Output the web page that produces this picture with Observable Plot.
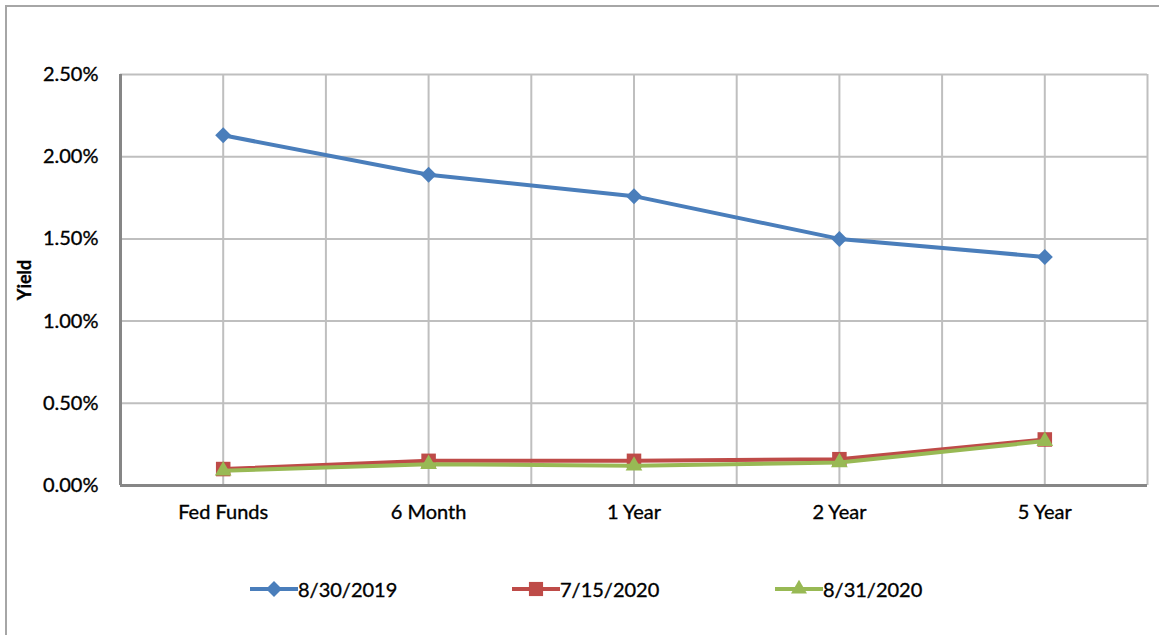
<!DOCTYPE html>
<html><head><meta charset="utf-8">
<script src="https://cdn.jsdelivr.net/npm/d3@7"></script>
<script src="https://cdn.jsdelivr.net/npm/@observablehq/plot@0.6"></script>
<style>
html,body{margin:0;padding:0;background:#fff;overflow:hidden;}
#box{position:absolute;left:5px;top:5px;width:1160px;height:640px;border:2px solid #a6a6a6;box-sizing:border-box;}
#chart{position:absolute;left:0;top:0;}
#chart text{paint-order:stroke;stroke:#000;stroke-width:0.35px;}
#legend{position:absolute;top:567px;left:0;width:1159px;height:30px;font-family:Lato,"Liberation Sans",sans-serif;font-size:20px;color:#000;-webkit-text-stroke:0.35px #000;}
.item{position:absolute;top:0;display:flex;align-items:center;height:30px;}
.item svg{display:block;}
</style></head>
<body>
<div id="box"><div id="chart"></div><div id="legend"></div></div>
<script>
const categories = ["Fed Funds", "6 Month", "1 Year", "2 Year", "5 Year"];
const seriesNames = ["8/30/2019", "7/15/2020", "8/31/2020"];
const seriesColors = ["#4A7EBB", "#BE4B48", "#98B954"];
const seriesSymbols = ["diamond2", "square", "triangle"];
const yield2019_08_30 = [2.13, 1.89, 1.76, 1.50, 1.39];
const yield2020_07_15 = [0.10, 0.15, 0.15, 0.16, 0.28];
const yield2020_08_31 = [0.09, 0.13, 0.12, 0.14, 0.27];
const yTicks = [0, 0.5, 1.0, 1.5, 2.0, 2.5];

const allSeries = [yield2019_08_30, yield2020_07_15, yield2020_08_31];
const rows = allSeries.flatMap((vals, s) => vals.map((v, i) => ({i, cat: categories[i], v, s: seriesNames[s]})));
const gridXs = categories.flatMap((c, i) => [i - 0.5, i]).concat([categories.length - 0.5]);

const marks = [
  Plot.ruleY(yTicks.slice(1), {stroke: "#bfbfbf", strokeWidth: 2}),
  Plot.ruleX(gridXs.slice(1), {stroke: "#bfbfbf", strokeWidth: 2}),
  Plot.ruleX([-0.5], {stroke: "#868686", strokeWidth: 3}),
  Plot.ruleY([0], {stroke: "#868686", strokeWidth: 3, x1: -0.5, x2: 4.5})
];
seriesNames.forEach((name, s) => {
  const d = rows.filter(r => r.s === name);
  marks.push(Plot.line(d, {x: "i", y: "v", stroke: seriesColors[s], strokeWidth: 4}));
  marks.push(Plot.dot(d, {x: "i", y: "v", fill: seriesColors[s], stroke: "none", symbol: seriesSymbols[s], r: s === 0 ? 7.2 : (s === 1 ? 8.2 : 6.2)}));
});

const plot = Plot.plot({
  width: 1152, height: 530,
  marginLeft: 113, marginRight: 12, marginTop: 67, marginBottom: 52,
  style: {fontFamily: "Lato, 'Liberation Sans', sans-serif", fontSize: "20px", color: "#000", background: "transparent", overflow: "visible"},
  x: {type: "linear", domain: [-0.5, categories.length - 0.5], ticks: categories.map((c, i) => i), tickFormat: i => categories[i], tickSize: 0, tickPadding: 19, label: null},
  y: {domain: [0, 2.5], ticks: yTicks, tickFormat: d => d.toFixed(2) + "%", tickSize: 0, tickPadding: 22, label: "Yield", labelAnchor: "center", labelArrow: "none", labelOffset: 102},
  marks
});
plot.querySelectorAll("[aria-label='y-axis label'] text, [aria-label='y-axis label']").forEach(el => { el.style.fontWeight = "bold"; el.style.fontSize = "18px"; });
document.getElementById("chart").appendChild(plot);

const legend = document.getElementById("legend");
const legendX = [243, 505, 768];
seriesNames.forEach((name, s) => {
  const it = document.createElement("div");
  it.className = "item";
  it.style.left = legendX[s] + "px";
  const sv = d3.create("svg").attr("width", 48).attr("height", 30);
  sv.append("line").attr("x1", 0).attr("x2", 48).attr("y1", 15).attr("y2", 15).attr("stroke", seriesColors[s]).attr("stroke-width", 4);
  const sym = [d3.symbolDiamond2, d3.symbolSquare, d3.symbolTriangle][s];
  const size = [163, 200, 110][s];
  sv.append("path").attr("d", d3.symbol(sym, size)()).attr("transform", "translate(24,15)").attr("fill", seriesColors[s]);
  it.appendChild(sv.node());
  const t = document.createElement("span");
  t.textContent = name;
  it.appendChild(t);
  legend.appendChild(it);
});
</script>
</body></html>
